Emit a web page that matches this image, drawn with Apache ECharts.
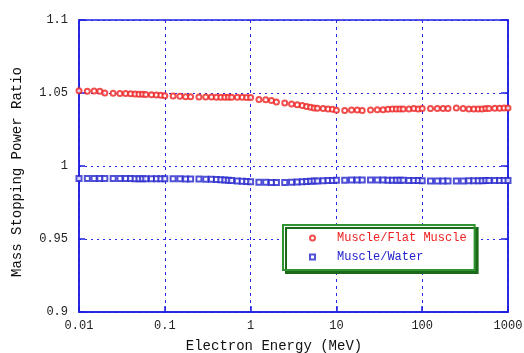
<!DOCTYPE html>
<html>
<head>
<meta charset="utf-8">
<script src="https://cdn.jsdelivr.net/npm/echarts@6/dist/echarts.min.js"></script>
<style>
  html, body { margin: 0; padding: 0; background: #ffffff; }
  #chart { width: 524px; height: 353px; }
</style>
</head>
<body>
<div id="chart"></div>
<script>
// Electron kinetic energies (MeV), standard stopping-power table grid
const energies = [
  0.01, 0.0125, 0.015, 0.0175, 0.02, 0.025, 0.03, 0.035, 0.04, 0.045, 0.05, 0.055, 0.06, 0.07, 0.08, 0.09,
  0.1, 0.125, 0.15, 0.175, 0.2, 0.25, 0.3, 0.35, 0.4, 0.45, 0.5, 0.55, 0.6, 0.7, 0.8, 0.9,
  1, 1.25, 1.5, 1.75, 2, 2.5, 3, 3.5, 4, 4.5, 5, 5.5, 6, 7, 8, 9,
  10, 12.5, 15, 17.5, 20, 25, 30, 35, 40, 45, 50, 55, 60, 70, 80, 90,
  100, 125, 150, 175, 200, 250, 300, 350, 400, 450, 500, 550, 600, 700, 800, 900,
  1000
];

// Mass stopping power ratio, muscle to flat muscle
const muscleFlatMuscle = [
  1.0516, 1.0512, 1.0514, 1.0512, 1.0500, 1.0498, 1.0497, 1.0496, 1.0495, 1.0494, 1.0492, 1.0491, 1.0490, 1.0488, 1.0486, 1.0484,
  1.0482, 1.0480, 1.0477, 1.0475, 1.0474, 1.0473, 1.0472, 1.0472, 1.0471, 1.0471, 1.0471, 1.0471, 1.0471, 1.0471, 1.0471, 1.0470,
  1.0470, 1.0455, 1.0453, 1.0448, 1.0439, 1.0432, 1.0425, 1.0420, 1.0414, 1.0407, 1.0403, 1.0398, 1.0396, 1.0393, 1.0391, 1.0389,
  1.0382, 1.0380, 1.0384, 1.0384, 1.0380, 1.0384, 1.0386, 1.0386, 1.0389, 1.0390, 1.0390, 1.0390, 1.0390, 1.0390, 1.0393, 1.0390,
  1.0393, 1.0393, 1.0393, 1.0393, 1.0393, 1.0398, 1.0393, 1.0390, 1.0390, 1.0390, 1.0390, 1.0393, 1.0393, 1.0395, 1.0395, 1.0398,
  1.0398
];

// Mass stopping power ratio, muscle to water
const muscleWater = [
  0.9915, 0.9914, 0.9914, 0.9914, 0.9914, 0.9915, 0.9914, 0.9914, 0.9914, 0.9913, 0.9913, 0.9913, 0.9913, 0.9913, 0.9912, 0.9912,
  0.9912, 0.9912, 0.9912, 0.9911, 0.9911, 0.9911, 0.9910, 0.9909, 0.9908, 0.9906, 0.9904, 0.9902, 0.9900, 0.9898, 0.9896, 0.9894,
  0.9892, 0.9889, 0.9888, 0.9887, 0.9887, 0.9887, 0.9888, 0.9890, 0.9892, 0.9894, 0.9896, 0.9897, 0.9898, 0.9899, 0.9900, 0.9901,
  0.9902, 0.9903, 0.9904, 0.9904, 0.9904, 0.9904, 0.9904, 0.9904, 0.9903, 0.9903, 0.9903, 0.9902, 0.9902, 0.9901, 0.9901, 0.9900,
  0.9899, 0.9898, 0.9898, 0.9897, 0.9897, 0.9898, 0.9898, 0.9899, 0.9899, 0.9899, 0.9899, 0.9900, 0.9900, 0.9900, 0.9900, 0.9900,
  0.9900
];

const xTickLabels = ['0.01', '0.1', '1', '10', '100', '1000'];
const yTickLabels = ['0.9', '0.95', '1', '1.05', '1.1'];

const seriesNames = ['Muscle/Flat Muscle', 'Muscle/Water'];

const FONT = '"Liberation Mono", "DejaVu Sans Mono", monospace';
const AXIS_BLUE = '#1e1ee0';
const GRID_BLUE = '#2828e8';
const RED = '#ee2222';
const BLUE = '#2424cc';

const pairs = (ys) => energies.map((e, i) => [e, ys[i]]);

const chart = echarts.init(document.getElementById('chart'), null, { renderer: 'canvas' });

chart.setOption({
  animation: false,
  backgroundColor: '#ffffff',
  grid: {
    left: 79, right: 16, top: 20, bottom: 41,
    outerBoundsMode: 'none',
    show: true, borderColor: AXIS_BLUE, borderWidth: 1.5, backgroundColor: 'transparent'
  },
  legend: {
    orient: 'vertical',
    left: 283, top: 225,
    padding: [7, 8, 7, 26],
    itemGap: 7,
    itemWidth: 5, itemHeight: 5,
    backgroundColor: '#ffffff',
    borderColor: '#2f932f', borderWidth: 2, borderRadius: 0,
    shadowColor: '#1a6a1a', shadowBlur: 0, shadowOffsetX: 3, shadowOffsetY: 3,
    textStyle: { fontFamily: FONT, fontSize: 12, padding: [0, 0, 0, 17] },
    itemStyle: { borderWidth: 1 },
    data: [
      { name: seriesNames[0], textStyle: { color: RED } },
      { name: seriesNames[1], textStyle: { color: BLUE } }
    ]
  },
  xAxis: {
    type: 'log', logBase: 10, min: 0.01, max: 1000,
    name: 'Electron Energy (MeV)',
    nameLocation: 'middle', nameGap: 27,
    nameTextStyle: { fontFamily: FONT, fontSize: 14, color: '#111', padding: [0, 39, 0, 0] },
    axisLine: { show: true, lineStyle: { color: AXIS_BLUE, width: 1.5 } },
    axisTick: { show: true, inside: true, length: 6, lineStyle: { color: AXIS_BLUE, width: 1.5 } },
    minorTick: { show: false },
    axisLabel: {
      fontFamily: FONT, fontSize: 12, color: '#222', margin: 8,
      formatter: (v) => xTickLabels[Math.round(Math.log10(v)) + 2]
    },
    splitLine: { show: true, lineStyle: { color: GRID_BLUE, width: 1, type: [3, 4] } }
  },
  yAxis: [
    {
      type: 'value', min: 0.9, max: 1.1, interval: 0.05,
      name: 'Mass Stopping Power Ratio',
      nameLocation: 'middle', nameGap: 55,
      nameTextStyle: { fontFamily: FONT, fontSize: 14, color: '#111', padding: [0, 12, 0, 0] },
      axisLine: { show: true, lineStyle: { color: AXIS_BLUE, width: 1.5 } },
      axisTick: { show: true, inside: true, length: 6, lineStyle: { color: AXIS_BLUE, width: 1.5 } },
      axisLabel: {
        fontFamily: FONT, fontSize: 12, color: '#222', margin: 11,
        formatter: (v) => yTickLabels[Math.round((v - 0.9) / 0.05)]
      },
      splitLine: { show: true, lineStyle: { color: GRID_BLUE, width: 1, type: [2, 4] } }
    },
    {
      type: 'value', min: 0.9, max: 1.1, interval: 0.05, position: 'right',
      axisLine: { show: true, lineStyle: { color: AXIS_BLUE, width: 1.5 } },
      axisTick: { show: true, inside: true, length: 7, lineStyle: { color: AXIS_BLUE, width: 1.5 } },
      axisLabel: { show: false },
      splitLine: { show: false }
    }
  ],
  series: [
    {
      name: seriesNames[0], type: 'scatter',
      symbol: 'emptyCircle', symbolSize: 5,
      itemStyle: { color: RED, borderColor: RED, borderWidth: 0.9 },
      data: pairs(muscleFlatMuscle),
      z: 3
    },
    {
      name: seriesNames[1], type: 'scatter',
      symbol: 'emptyRect', symbolSize: 5,
      itemStyle: { color: BLUE, borderColor: BLUE, borderWidth: 0.9 },
      data: pairs(muscleWater),
      z: 3
    }
  ]
});
</script>
</body>
</html>
